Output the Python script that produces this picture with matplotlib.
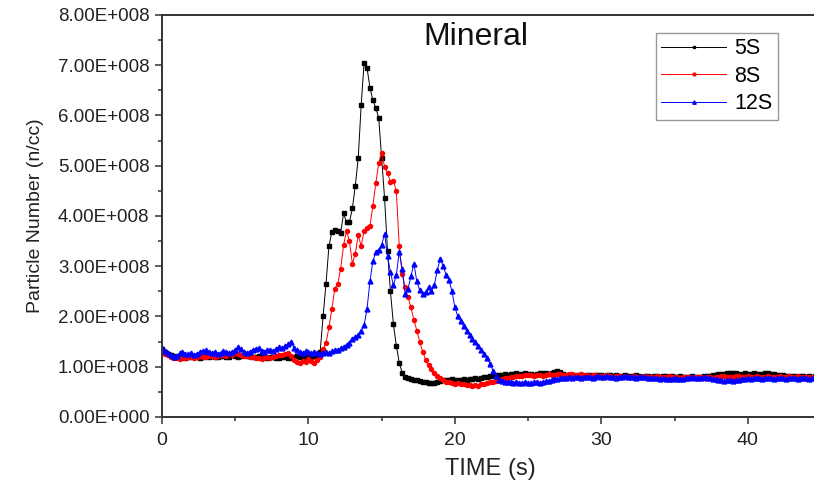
import matplotlib
matplotlib.use("Agg")
import matplotlib.pyplot as plt
from matplotlib.ticker import MultipleLocator, FuncFormatter
import numpy as np

plt.rcParams['font.family'] = ['Liberation Sans', 'DejaVu Sans']

# sampling step of the recorder (s)
dt = 0.2

# particle number, units of 1e8 n/cc, one value every 0.2 s
s5 = [1.35, 1.30, 1.26, 1.24, 1.22, 1.20, 1.19, 1.21, 1.18, 1.20,
      1.19, 1.21, 1.20, 1.18, 1.19, 1.21, 1.20, 1.22, 1.19, 1.20,
      1.22, 1.21, 1.19, 1.20, 1.23, 1.22, 1.20, 1.21, 1.24, 1.22,
      1.21, 1.19, 1.20, 1.22, 1.21, 1.19, 1.18, 1.20, 1.19, 1.17,
      1.18, 1.20, 1.19, 1.17, 1.18, 1.20, 1.21, 1.19, 1.22, 1.20,
      1.21, 1.19, 1.22, 1.20, 1.30, 2.00, 2.65, 3.40, 3.68, 3.72,
      3.70, 3.66, 4.05, 3.88, 3.88, 4.15, 4.60, 5.15, 6.20, 7.05,
      6.95, 6.55, 6.30, 6.15, 5.95, 5.15, 4.35, 3.30, 2.50, 1.85,
      1.42, 1.08, 0.88, 0.80, 0.77, 0.75, 0.74, 0.73, 0.72, 0.70,
      0.69, 0.68, 0.67, 0.68, 0.70, 0.72, 0.74, 0.73, 0.74, 0.75,
      0.74, 0.73, 0.74, 0.75, 0.74, 0.75, 0.76, 0.77, 0.76, 0.78,
      0.79, 0.80, 0.81, 0.82, 0.83, 0.83, 0.84, 0.85, 0.84, 0.86,
      0.86, 0.87, 0.86, 0.85, 0.87, 0.86, 0.85, 0.84, 0.86, 0.87,
      0.87, 0.88, 0.86, 0.87, 0.89, 0.91, 0.90, 0.86, 0.84, 0.83,
      0.83, 0.82, 0.84, 0.83, 0.82, 0.83, 0.84, 0.82, 0.83, 0.84,
      0.83, 0.82, 0.84, 0.83, 0.82, 0.83, 0.82, 0.81, 0.83, 0.82,
      0.81, 0.82, 0.83, 0.81, 0.80, 0.81, 0.82, 0.80, 0.81, 0.82,
      0.80, 0.81, 0.82, 0.80, 0.81, 0.80, 0.79, 0.81, 0.80, 0.79,
      0.80, 0.81, 0.80, 0.79, 0.80, 0.81, 0.82, 0.81, 0.83, 0.84,
      0.85, 0.86, 0.85, 0.87, 0.88, 0.87, 0.88, 0.86, 0.85, 0.87,
      0.86, 0.85, 0.87, 0.86, 0.85, 0.86, 0.88, 0.87, 0.86, 0.85,
      0.84, 0.83, 0.84, 0.82, 0.81, 0.82, 0.81, 0.80, 0.82, 0.81,
      0.80, 0.81, 0.80, 0.81]

s8 = [1.30, 1.26, 1.24, 1.20, 1.18, 1.17, 1.16, 1.19, 1.18, 1.20,
      1.19, 1.18, 1.20, 1.21, 1.19, 1.20, 1.22, 1.21, 1.19, 1.22,
      1.23, 1.24, 1.22, 1.25, 1.24, 1.27, 1.25, 1.24, 1.22, 1.21,
      1.20, 1.19, 1.18, 1.17, 1.16, 1.18, 1.19, 1.17, 1.20, 1.22,
      1.24, 1.23, 1.26, 1.27, 1.22, 1.14, 1.10, 1.08, 1.12, 1.10,
      1.15, 1.12, 1.08, 1.13, 1.20, 1.35, 1.47, 1.78, 2.15, 2.55,
      2.65, 2.95, 3.42, 3.70, 3.50, 3.05, 3.25, 3.62, 3.40, 3.70,
      3.75, 3.80, 4.20, 4.65, 5.05, 5.25, 4.98, 4.85, 4.68, 4.70,
      4.50, 3.40, 2.85, 2.58, 2.38, 2.18, 1.93, 1.72, 1.50, 1.30,
      1.14, 1.04, 0.95, 0.87, 0.82, 0.77, 0.73, 0.70, 0.69, 0.68,
      0.66, 0.67, 0.65, 0.66, 0.64, 0.63, 0.61, 0.64, 0.62, 0.65,
      0.66, 0.67, 0.69, 0.70, 0.72, 0.74, 0.76, 0.77, 0.78, 0.79,
      0.80, 0.81, 0.82, 0.81, 0.83, 0.84, 0.83, 0.82, 0.84, 0.83,
      0.82, 0.84, 0.85, 0.83, 0.84, 0.85, 0.86, 0.84, 0.83, 0.85,
      0.86, 0.84, 0.83, 0.85, 0.84, 0.83, 0.82, 0.84, 0.83, 0.82,
      0.81, 0.82, 0.83, 0.82, 0.80, 0.81, 0.82, 0.80, 0.81, 0.80,
      0.79, 0.81, 0.80, 0.79, 0.80, 0.81, 0.80, 0.79, 0.80, 0.81,
      0.80, 0.79, 0.80, 0.81, 0.80, 0.79, 0.80, 0.78, 0.79, 0.80,
      0.79, 0.78, 0.79, 0.80, 0.79, 0.78, 0.80, 0.79, 0.78, 0.80,
      0.79, 0.81, 0.82, 0.80, 0.79, 0.80, 0.82, 0.81, 0.80, 0.79,
      0.81, 0.80, 0.79, 0.81, 0.80, 0.79, 0.80, 0.81, 0.80, 0.79,
      0.80, 0.81, 0.79, 0.80, 0.81, 0.80, 0.79, 0.81, 0.80, 0.79,
      0.80, 0.79, 0.80, 0.81]

s12 = [1.38, 1.32, 1.27, 1.24, 1.20, 1.22, 1.27, 1.30, 1.26, 1.25,
       1.28, 1.24, 1.26, 1.30, 1.32, 1.33, 1.29, 1.27, 1.30, 1.26,
       1.28, 1.31, 1.30, 1.27, 1.29, 1.33, 1.40, 1.35, 1.30, 1.28,
       1.30, 1.33, 1.36, 1.37, 1.32, 1.30, 1.34, 1.33, 1.31, 1.36,
       1.40, 1.37, 1.42, 1.45, 1.50, 1.38, 1.33, 1.30, 1.28, 1.31,
       1.29, 1.27, 1.30, 1.28, 1.26, 1.27, 1.29, 1.28, 1.31, 1.33,
       1.34, 1.37, 1.40, 1.44, 1.47, 1.55, 1.60, 1.64, 1.72, 1.82,
       2.15, 2.70, 3.10, 3.28, 3.33, 3.42, 3.65, 3.20, 2.88, 2.62,
       2.82, 3.29, 2.95, 2.45, 2.55, 2.80, 3.05, 2.70, 2.52, 2.45,
       2.48, 2.58, 2.50, 2.63, 2.92, 3.15, 3.00, 2.83, 2.72, 2.50,
       2.18, 2.00, 1.90, 1.80, 1.72, 1.64, 1.56, 1.49, 1.41, 1.34,
       1.25, 1.18, 1.06, 0.92, 0.81, 0.74, 0.71, 0.70, 0.69, 0.70,
       0.68, 0.69, 0.67, 0.68, 0.69, 0.68, 0.67, 0.69, 0.70, 0.68,
       0.70, 0.71, 0.72, 0.74, 0.75, 0.76, 0.77, 0.78, 0.77, 0.79,
       0.78, 0.79, 0.80, 0.78, 0.79, 0.80, 0.79, 0.78, 0.80, 0.81,
       0.80, 0.79, 0.81, 0.80, 0.79, 0.78, 0.79, 0.80, 0.81, 0.79,
       0.80, 0.79, 0.78, 0.79, 0.80, 0.79, 0.78, 0.77, 0.78, 0.77,
       0.76, 0.77, 0.76, 0.75, 0.76, 0.77, 0.76, 0.75, 0.76, 0.77,
       0.78, 0.79, 0.78, 0.77, 0.78, 0.79, 0.78, 0.77, 0.76, 0.75,
       0.74, 0.73, 0.72, 0.73, 0.74, 0.72, 0.73, 0.74, 0.75, 0.76,
       0.77, 0.76, 0.77, 0.78, 0.77, 0.76, 0.77, 0.78, 0.77, 0.76,
       0.77, 0.78, 0.77, 0.76, 0.77, 0.78, 0.77, 0.76, 0.77, 0.78,
       0.77, 0.76, 0.77, 0.78]

series = [("5S", s5, "black", "s", 2.9),
          ("8S", s8, "#ff0000", "o", 2.9),
          ("12S", s12, "#0000ff", "^", 3.5)]


def sci(v, pos):
    if v == 0:
        return "0.00E+000"
    e = int(np.floor(np.log10(abs(v)) + 1e-9))
    return "%.2fE+%03d" % (v / 10 ** e, e)


fig = plt.figure(figsize=(8.14, 4.82), dpi=100)
ax = fig.add_axes([0.199, 0.135, 0.806, 0.834])

for name, vals, col, mk, ms in series:
    y = np.array(vals) * 1e8
    t = np.arange(len(y)) * dt
    ax.plot(t, y, color=col, lw=0.7, marker=mk, ms=ms, mec=col, mfc=col, label=name)

ax.set_xlim(0, 44.8)
ax.set_ylim(0, 8e8)
ax.xaxis.set_major_locator(MultipleLocator(10))
ax.xaxis.set_minor_locator(MultipleLocator(5))
ax.yaxis.set_major_locator(MultipleLocator(1e8))
ax.yaxis.set_minor_locator(MultipleLocator(0.5e8))
ax.yaxis.set_major_formatter(FuncFormatter(sci))
ax.tick_params(which='major', direction='out', length=5, width=1.1, color='#333333')
ax.tick_params(which='minor', direction='out', length=3, width=1.1, color='#333333')
ax.tick_params(axis='y', labelsize=13.5, colors='#333333', labelcolor='#222222', pad=4)
ax.tick_params(axis='x', labelsize=14, colors='#333333', labelcolor='#222222', pad=6)
for sp in ax.spines.values():
    sp.set_linewidth(1.4)
    sp.set_color('#333333')

ax.set_xlabel("TIME (s)", fontsize=17, color='#222222', labelpad=6)
ax.set_ylabel("Particle Number (n/cc)", fontsize=14, color='#222222', labelpad=10)
ax.text(0.479, 0.945, "Mineral", transform=ax.transAxes, ha='center', va='center',
        fontsize=23, color='#111111')

leg = ax.legend(loc='upper right', bbox_to_anchor=(0.939, 0.955), borderaxespad=0,
                fontsize=15.5, handlelength=3.0, handletextpad=0.4, labelspacing=0.3,
                borderpad=0.25, fancybox=False, framealpha=1, markerscale=0.7)
leg.get_frame().set_edgecolor('#999999')
leg.get_frame().set_linewidth(1.0)

fig.savefig("out.png", dpi=100)
